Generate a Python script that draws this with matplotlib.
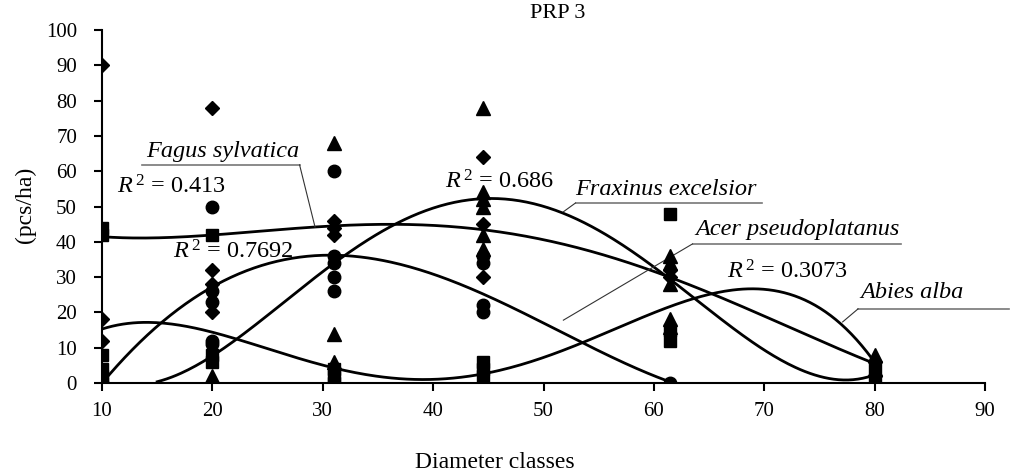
import numpy as np
import matplotlib
matplotlib.use("Agg")
import matplotlib.pyplot as plt

plt.rcParams['font.family'] = ['Liberation Serif', 'DejaVu Serif']
plt.rcParams['mathtext.fontset'] = 'custom'
plt.rcParams['mathtext.rm'] = 'Liberation Serif'
plt.rcParams['mathtext.it'] = 'Liberation Serif:italic'

# scatter data (pcs/ha) per diameter class, several plots per species
fagus_x = [10, 10, 10, 20, 20, 20, 20, 31, 31, 31, 44.5, 44.5, 44.5, 61.5, 61.5, 80, 80]
fagus_y = [90, 18, 12, 78, 32, 28, 20, 46, 44, 42, 64, 45, 30, 32, 30, 6, 2]

abies_x = [10, 10, 10, 10, 10, 10, 20, 20, 20, 31, 31, 31, 44.5, 44.5, 44.5, 61.5, 61.5, 61.5, 80, 80]
abies_y = [44, 42, 8, 4, 2, 0, 42, 8, 6, 4, 2, 0, 6, 4, 2, 48, 15, 12, 4, 0]

fraxinus_x = [10, 10, 20, 20, 31, 31, 31, 44.5, 44.5, 44.5, 44.5, 44.5, 44.5, 61.5, 61.5, 61.5, 61.5, 61.5, 80, 80]
fraxinus_y = [0, 0, 2, 0, 68, 14, 6, 78, 54, 50, 42, 38, 52, 36, 34, 28, 18, 16, 8, 4]

acer_x = [10, 20, 20, 20, 20, 20, 31, 31, 31, 31, 31, 44.5, 44.5, 44.5, 44.5, 61.5]
acer_y = [0, 50, 26, 23, 12, 11, 60, 36, 34, 30, 26, 36, 34, 22, 20, 0]

# trend lines
fagus_tx = [10, 15, 20, 31, 44.5, 53.3, 61.5, 71.4, 80]
fagus_ty = [41.5, 41, 42, 44.5, 43.5, 38, 30, 17, 5.5]

fraxinus_tx = [15, 20, 26.3, 31.3, 36.4, 44.5, 53.3, 61.5, 71.4, 77, 80]
fraxinus_ty = [0, 8.5, 21.5, 35.7, 44, 52, 46, 30, 6.5, 0, 3]

acer_tx = [10, 20, 26.3, 32.3, 37, 44.5, 53.3, 59.6, 61.5]
acer_ty = [0, 27, 34.8, 36.3, 34, 24.4, 12.2, 2.8, 0]

abies_tx = [10, 14, 20, 27, 31, 39, 44.5, 53.3, 61.5, 68, 77, 80]
abies_ty = [15.5, 17, 14, 8, 4.5, 1, 2.5, 11.3, 21, 27, 17, 5.5]

x_ticks = [10, 20, 30, 40, 50, 60, 70, 80, 90]
y_ticks = [0, 10, 20, 30, 40, 50, 60, 70, 80, 90, 100]


def trend(ax, tx, ty, deg=4):
    p = np.polyfit(tx, ty, deg)
    xs = np.linspace(tx[0], tx[-1], 300)
    ax.plot(xs, np.polyval(p, xs), color='black', lw=2, zorder=2)


def label(ax, text, tx, ty, ux0, ux1, uy, lx, ly, from_right=False):
    ax.text(tx, ty, text, fontsize=17.5, style='italic', va='baseline', clip_on=False)
    ax.plot([ux0, ux1], [uy, uy], color='#777777', lw=1.2, clip_on=False)
    start = ux1 if from_right else ux0
    ax.plot([start, lx], [uy, ly], color='#333333', lw=0.8, clip_on=False)


fig = plt.figure(figsize=(10.14, 4.73), dpi=100)
ax = fig.add_axes([102/1014, 1-383/473, (985-102)/1014, (383-30)/473])

ax.plot(fagus_x, fagus_y, 'D', color='black', ms=7.5, zorder=3)
ax.plot(abies_x, abies_y, 's', color='black', ms=8.5, zorder=3)
ax.plot(fraxinus_x, fraxinus_y, '^', color='black', ms=10, zorder=3)
ax.plot(acer_x, acer_y, 'o', color='black', ms=9, zorder=3)

trend(ax, fagus_tx, fagus_ty)
trend(ax, fraxinus_tx, fraxinus_ty)
trend(ax, acer_tx, acer_ty)
trend(ax, abies_tx, abies_ty)

ax.set_xlim(10, 90)
ax.set_ylim(0, 100)
ax.set_xticks(x_ticks)
ax.set_yticks(y_ticks)
ax.tick_params(labelsize=15, width=1.5, length=6, direction='out')
ax.tick_params(axis='y', pad=12)
ax.tick_params(axis='x', pad=8)
for s in ['top', 'right']:
    ax.spines[s].set_visible(False)
for s in ['left', 'bottom']:
    ax.spines[s].set_linewidth(1.5)
ax.spines['left'].set_zorder(4)

fig.text(25/1014, 1-205/473, '(pcs/ha)', fontsize=17, rotation=90, ha='center', va='center')
fig.text(495/1014, 1-462/473, 'Diameter classes', fontsize=17, ha='center', va='center')
fig.text(558/1014, 1-13/473, 'PRP 3', fontsize=16, ha='center', va='center')

# species labels with leader lines
label(ax, 'Fagus sylvatica', 14.0, 64.1, 13.6, 27.9, 61.8, 29.3, 44.2, from_right=True)
label(ax, 'Fraxinus excelsior', 52.9, 53.3, 52.9, 69.8, 51.0, 51.8, 48.5)
label(ax, 'Acer pseudoplatanus', 63.8, 41.9, 63.5, 82.4, 39.4, 51.8, 17.8)
label(ax, 'Abies alba', 78.7, 24.1, 78.5, 92.2, 21.0, 77.1, 17.3)

# R squared values
r2 = [('0.413', 11.4, 53.8), ('0.7692', 16.4, 35.4), ('0.686', 41.1, 55.2), ('0.3073', 66.6, 29.7)]
for val, x, y in r2:
    ax.text(x, y, r'$R^{\,2}$ = ' + val, fontsize=17.5, va='baseline', clip_on=False)

fig.savefig('out.png', dpi=100)
